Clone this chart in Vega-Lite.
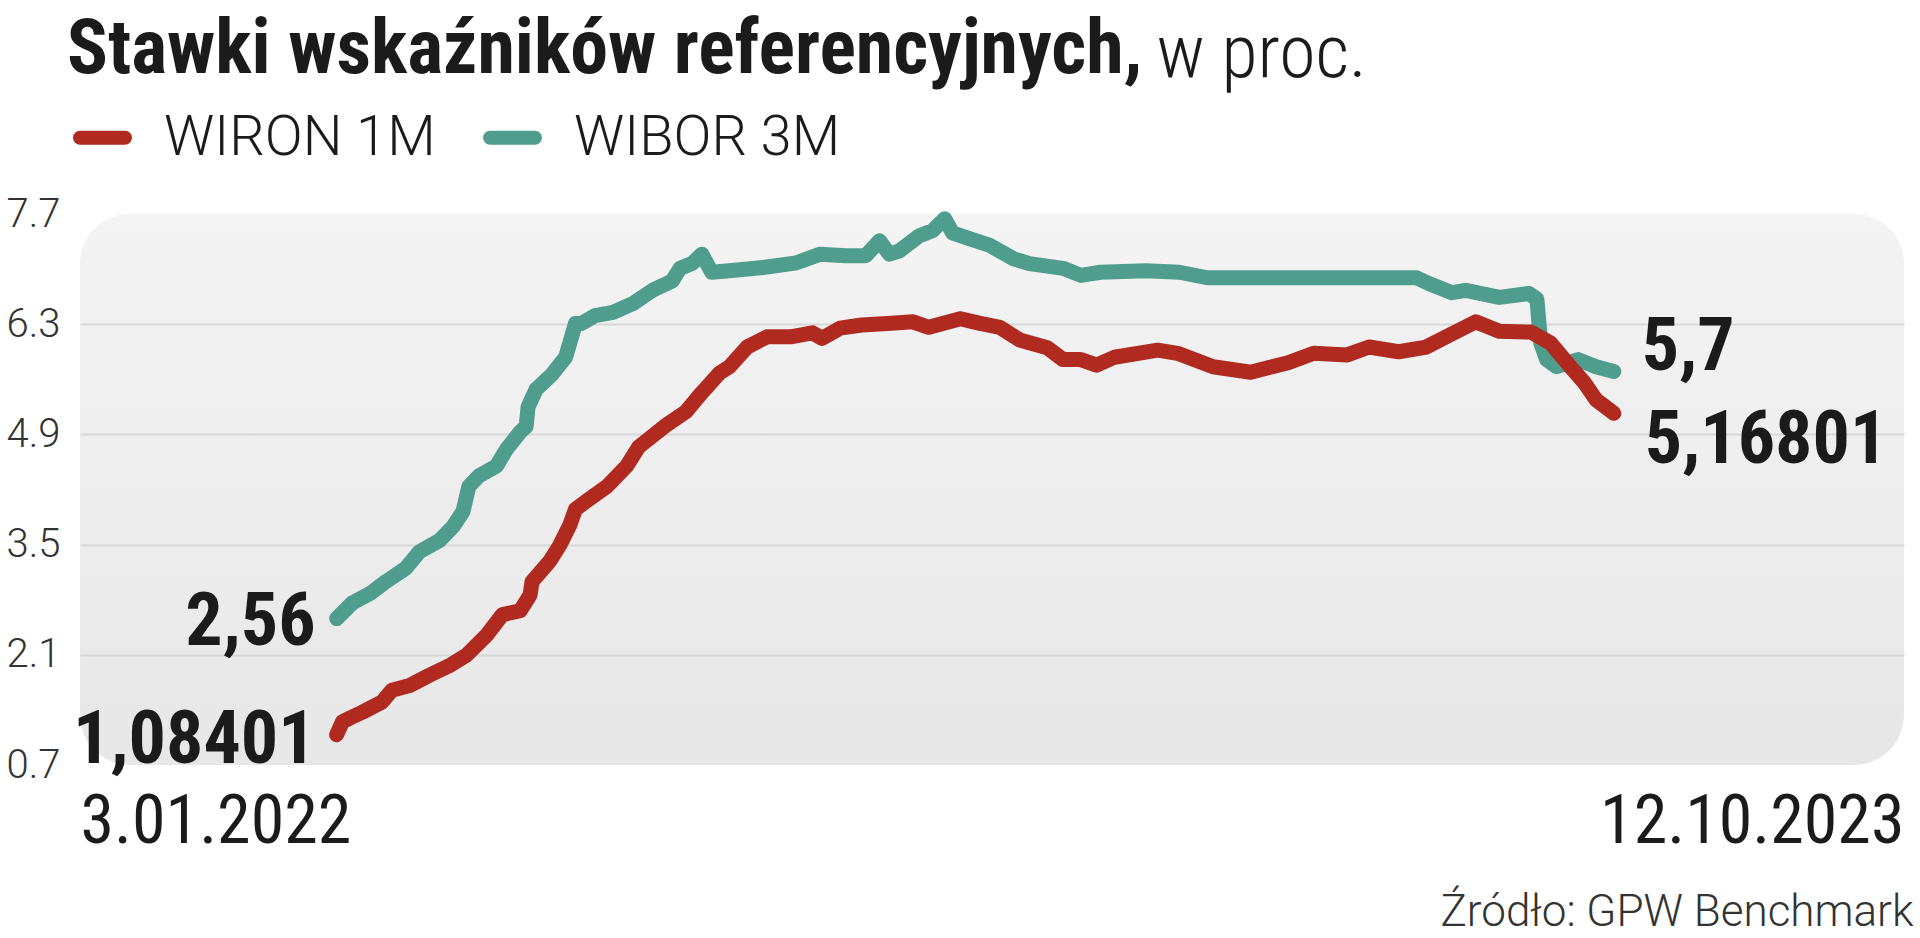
{
  "$schema": "https://vega.github.io/schema/vega-lite/v6.json",
  "autosize": {"type": "none"},
  "padding": {"left": 80, "top": 214, "right": 16, "bottom": 173},
  "width": 1824,
  "height": 551,
  "background": "#ffffff",
  "title": {
    "text": "Stawki wskaźników referencyjnych,",
    "anchor": "start",
    "frame": "group",
    "dx": -13,
    "offset": -132,
    "baseline": "alphabetic",
    "font": "Roboto Condensed",
    "fontWeight": "bold",
    "fontSize": 76,
    "color": "#1b1b1b"
  },
  "config": {
    "view": {
      "stroke": null,
      "cornerRadius": 50,
      "fill": {
        "gradient": "linear", "x1": 0, "y1": 0, "x2": 0, "y2": 1,
        "stops": [{"offset": 0, "color": "#f4f4f4"}, {"offset": 1, "color": "#e7e7e7"}]
      }
    }
  },
  "datasets": {
    "rates": [
      {"series": "WIBOR 3M", "date": "2022-01-03", "value": 2.56},
      {"series": "WIBOR 3M", "date": "2022-01-11", "value": 2.76},
      {"series": "WIBOR 3M", "date": "2022-01-20", "value": 2.88},
      {"series": "WIBOR 3M", "date": "2022-01-28", "value": 3.03},
      {"series": "WIBOR 3M", "date": "2022-02-07", "value": 3.20},
      {"series": "WIBOR 3M", "date": "2022-02-14", "value": 3.41},
      {"series": "WIBOR 3M", "date": "2022-02-24", "value": 3.55},
      {"series": "WIBOR 3M", "date": "2022-03-03", "value": 3.73},
      {"series": "WIBOR 3M", "date": "2022-03-08", "value": 3.92},
      {"series": "WIBOR 3M", "date": "2022-03-11", "value": 4.24},
      {"series": "WIBOR 3M", "date": "2022-03-16", "value": 4.37},
      {"series": "WIBOR 3M", "date": "2022-03-25", "value": 4.50},
      {"series": "WIBOR 3M", "date": "2022-03-30", "value": 4.71},
      {"series": "WIBOR 3M", "date": "2022-04-06", "value": 4.93},
      {"series": "WIBOR 3M", "date": "2022-04-09", "value": 5.00},
      {"series": "WIBOR 3M", "date": "2022-04-10", "value": 5.25},
      {"series": "WIBOR 3M", "date": "2022-04-14", "value": 5.47},
      {"series": "WIBOR 3M", "date": "2022-04-22", "value": 5.66},
      {"series": "WIBOR 3M", "date": "2022-04-29", "value": 5.88},
      {"series": "WIBOR 3M", "date": "2022-05-04", "value": 6.31},
      {"series": "WIBOR 3M", "date": "2022-05-07", "value": 6.31},
      {"series": "WIBOR 3M", "date": "2022-05-14", "value": 6.41},
      {"series": "WIBOR 3M", "date": "2022-05-23", "value": 6.45},
      {"series": "WIBOR 3M", "date": "2022-06-02", "value": 6.56},
      {"series": "WIBOR 3M", "date": "2022-06-12", "value": 6.73},
      {"series": "WIBOR 3M", "date": "2022-06-22", "value": 6.85},
      {"series": "WIBOR 3M", "date": "2022-06-26", "value": 7.01},
      {"series": "WIBOR 3M", "date": "2022-07-02", "value": 7.07},
      {"series": "WIBOR 3M", "date": "2022-07-07", "value": 7.19},
      {"series": "WIBOR 3M", "date": "2022-07-12", "value": 6.96},
      {"series": "WIBOR 3M", "date": "2022-07-21", "value": 6.98},
      {"series": "WIBOR 3M", "date": "2022-08-07", "value": 7.02},
      {"series": "WIBOR 3M", "date": "2022-08-24", "value": 7.08},
      {"series": "WIBOR 3M", "date": "2022-09-05", "value": 7.19},
      {"series": "WIBOR 3M", "date": "2022-09-18", "value": 7.17},
      {"series": "WIBOR 3M", "date": "2022-09-28", "value": 7.17},
      {"series": "WIBOR 3M", "date": "2022-10-05", "value": 7.36},
      {"series": "WIBOR 3M", "date": "2022-10-10", "value": 7.19},
      {"series": "WIBOR 3M", "date": "2022-10-15", "value": 7.23},
      {"series": "WIBOR 3M", "date": "2022-10-25", "value": 7.42},
      {"series": "WIBOR 3M", "date": "2022-11-01", "value": 7.49},
      {"series": "WIBOR 3M", "date": "2022-11-07", "value": 7.64},
      {"series": "WIBOR 3M", "date": "2022-11-11", "value": 7.46},
      {"series": "WIBOR 3M", "date": "2022-11-18", "value": 7.40},
      {"series": "WIBOR 3M", "date": "2022-11-30", "value": 7.30},
      {"series": "WIBOR 3M", "date": "2022-12-12", "value": 7.13},
      {"series": "WIBOR 3M", "date": "2022-12-20", "value": 7.07},
      {"series": "WIBOR 3M", "date": "2023-01-06", "value": 7.01},
      {"series": "WIBOR 3M", "date": "2023-01-15", "value": 6.92},
      {"series": "WIBOR 3M", "date": "2023-01-25", "value": 6.96},
      {"series": "WIBOR 3M", "date": "2023-02-17", "value": 6.98},
      {"series": "WIBOR 3M", "date": "2023-03-06", "value": 6.96},
      {"series": "WIBOR 3M", "date": "2023-03-20", "value": 6.89},
      {"series": "WIBOR 3M", "date": "2023-04-09", "value": 6.89},
      {"series": "WIBOR 3M", "date": "2023-07-04", "value": 6.89},
      {"series": "WIBOR 3M", "date": "2023-07-10", "value": 6.82},
      {"series": "WIBOR 3M", "date": "2023-07-22", "value": 6.70},
      {"series": "WIBOR 3M", "date": "2023-07-29", "value": 6.73},
      {"series": "WIBOR 3M", "date": "2023-08-15", "value": 6.64},
      {"series": "WIBOR 3M", "date": "2023-08-30", "value": 6.69},
      {"series": "WIBOR 3M", "date": "2023-09-03", "value": 6.62},
      {"series": "WIBOR 3M", "date": "2023-09-05", "value": 6.06},
      {"series": "WIBOR 3M", "date": "2023-09-08", "value": 5.85},
      {"series": "WIBOR 3M", "date": "2023-09-13", "value": 5.76},
      {"series": "WIBOR 3M", "date": "2023-09-24", "value": 5.85},
      {"series": "WIBOR 3M", "date": "2023-10-03", "value": 5.76},
      {"series": "WIBOR 3M", "date": "2023-10-12", "value": 5.70},
      {"series": "WIRON 1M", "date": "2022-01-03", "value": 1.08401},
      {"series": "WIRON 1M", "date": "2022-01-06", "value": 1.25},
      {"series": "WIRON 1M", "date": "2022-01-10", "value": 1.30},
      {"series": "WIRON 1M", "date": "2022-01-16", "value": 1.37},
      {"series": "WIRON 1M", "date": "2022-01-26", "value": 1.50},
      {"series": "WIRON 1M", "date": "2022-01-31", "value": 1.65},
      {"series": "WIRON 1M", "date": "2022-02-09", "value": 1.71},
      {"series": "WIRON 1M", "date": "2022-02-19", "value": 1.84},
      {"series": "WIRON 1M", "date": "2022-03-01", "value": 1.96},
      {"series": "WIRON 1M", "date": "2022-03-10", "value": 2.10},
      {"series": "WIRON 1M", "date": "2022-03-20", "value": 2.35},
      {"series": "WIRON 1M", "date": "2022-03-28", "value": 2.61},
      {"series": "WIRON 1M", "date": "2022-04-06", "value": 2.66},
      {"series": "WIRON 1M", "date": "2022-04-11", "value": 2.86},
      {"series": "WIRON 1M", "date": "2022-04-12", "value": 3.03},
      {"series": "WIRON 1M", "date": "2022-04-21", "value": 3.29},
      {"series": "WIRON 1M", "date": "2022-04-26", "value": 3.49},
      {"series": "WIRON 1M", "date": "2022-05-01", "value": 3.74},
      {"series": "WIRON 1M", "date": "2022-05-04", "value": 3.95},
      {"series": "WIRON 1M", "date": "2022-05-11", "value": 4.08},
      {"series": "WIRON 1M", "date": "2022-05-20", "value": 4.24},
      {"series": "WIRON 1M", "date": "2022-05-30", "value": 4.50},
      {"series": "WIRON 1M", "date": "2022-06-05", "value": 4.74},
      {"series": "WIRON 1M", "date": "2022-06-18", "value": 5.00},
      {"series": "WIRON 1M", "date": "2022-06-29", "value": 5.19},
      {"series": "WIRON 1M", "date": "2022-07-07", "value": 5.43},
      {"series": "WIRON 1M", "date": "2022-07-16", "value": 5.68},
      {"series": "WIRON 1M", "date": "2022-07-21", "value": 5.76},
      {"series": "WIRON 1M", "date": "2022-07-30", "value": 6.01},
      {"series": "WIRON 1M", "date": "2022-08-09", "value": 6.14},
      {"series": "WIRON 1M", "date": "2022-08-21", "value": 6.14},
      {"series": "WIRON 1M", "date": "2022-09-01", "value": 6.19},
      {"series": "WIRON 1M", "date": "2022-09-06", "value": 6.12},
      {"series": "WIRON 1M", "date": "2022-09-15", "value": 6.25},
      {"series": "WIRON 1M", "date": "2022-09-26", "value": 6.29},
      {"series": "WIRON 1M", "date": "2022-10-09", "value": 6.31},
      {"series": "WIRON 1M", "date": "2022-10-22", "value": 6.33},
      {"series": "WIRON 1M", "date": "2022-10-30", "value": 6.26},
      {"series": "WIRON 1M", "date": "2022-11-15", "value": 6.37},
      {"series": "WIRON 1M", "date": "2022-11-25", "value": 6.31},
      {"series": "WIRON 1M", "date": "2022-12-05", "value": 6.26},
      {"series": "WIRON 1M", "date": "2022-12-15", "value": 6.10},
      {"series": "WIRON 1M", "date": "2022-12-29", "value": 6.00},
      {"series": "WIRON 1M", "date": "2023-01-06", "value": 5.85},
      {"series": "WIRON 1M", "date": "2023-01-15", "value": 5.85},
      {"series": "WIRON 1M", "date": "2023-01-23", "value": 5.78},
      {"series": "WIRON 1M", "date": "2023-02-01", "value": 5.88},
      {"series": "WIRON 1M", "date": "2023-02-23", "value": 5.97},
      {"series": "WIRON 1M", "date": "2023-03-05", "value": 5.93},
      {"series": "WIRON 1M", "date": "2023-03-23", "value": 5.76},
      {"series": "WIRON 1M", "date": "2023-04-11", "value": 5.69},
      {"series": "WIRON 1M", "date": "2023-04-30", "value": 5.81},
      {"series": "WIRON 1M", "date": "2023-05-13", "value": 5.93},
      {"series": "WIRON 1M", "date": "2023-05-30", "value": 5.91},
      {"series": "WIRON 1M", "date": "2023-06-10", "value": 6.01},
      {"series": "WIRON 1M", "date": "2023-06-25", "value": 5.95},
      {"series": "WIRON 1M", "date": "2023-07-09", "value": 6.01},
      {"series": "WIRON 1M", "date": "2023-07-19", "value": 6.14},
      {"series": "WIRON 1M", "date": "2023-08-03", "value": 6.33},
      {"series": "WIRON 1M", "date": "2023-08-15", "value": 6.21},
      {"series": "WIRON 1M", "date": "2023-08-31", "value": 6.20},
      {"series": "WIRON 1M", "date": "2023-09-10", "value": 6.06},
      {"series": "WIRON 1M", "date": "2023-09-20", "value": 5.76},
      {"series": "WIRON 1M", "date": "2023-09-27", "value": 5.56},
      {"series": "WIRON 1M", "date": "2023-10-03", "value": 5.34},
      {"series": "WIRON 1M", "date": "2023-10-12", "value": 5.16801}
    ],
    "endLabels": [
      {"series": "WIBOR 3M", "date": "2022-01-03", "value": 2.56, "label": "2,56", "end": "first"},
      {"series": "WIRON 1M", "date": "2022-01-03", "value": 1.08401, "label": "1,08401", "end": "first"},
      {"series": "WIBOR 3M", "date": "2023-10-12", "value": 5.7, "label": "5,7", "end": "last"},
      {"series": "WIRON 1M", "date": "2023-10-12", "value": 5.16801, "label": "5,16801", "end": "last"}
    ]
  },
  "encoding": {
    "x": {
      "field": "date",
      "type": "temporal",
      "scale": {
        "domain": [
          {"year": 2021, "month": 8, "date": 26, "utc": true},
          {"year": 2024, "month": 3, "date": 7, "utc": true}
        ]
      },
      "axis": {
        "values": [
          {"year": 2021, "month": 8, "date": 26, "utc": true},
          {"year": 2024, "month": 3, "date": 7, "utc": true}
        ],
        "labelExpr": "datum.index == 0 ? '3.01.2022' : '12.10.2023'",
        "labelFlush": true,
        "labelLimit": 0,
        "labelBaseline": "alphabetic",
        "labelPadding": 77,
        "tickSize": 0,
        "ticks": false,
        "domain": false,
        "grid": false,
        "labelFont": "Roboto Condensed",
        "labelFontWeight": 400,
        "labelFontSize": 68,
        "labelColor": "#1b1b1b",
        "title": "Źródło: GPW Benchmark",
        "titleX": 1833,
        "titleY": 160,
        "titleAlign": "right",
        "titleAnchor": null,
        "titleBaseline": "alphabetic",
        "titleFont": "Roboto",
        "titleFontWeight": 300,
        "titleFontSize": 44,
        "titleColor": "#333333"
      }
    },
    "y": {
      "field": "value",
      "type": "quantitative",
      "scale": {"domain": [0.7, 7.7], "nice": false, "zero": false},
      "axis": {
        "values": [0.7, 2.1, 3.5, 4.9, 6.3, 7.7],
        "format": ".1f",
        "labelAlign": "left",
        "labelBaseline": "middle",
        "labelPadding": 74,
        "tickSize": 0,
        "ticks": false,
        "domain": false,
        "labelFont": "Roboto",
        "labelFontWeight": 300,
        "labelFontSize": 40,
        "labelColor": "#333333",
        "labelOverlap": false,
        "gridColor": "#d7d7d7",
        "gridWidth": 2,
        "gridOpacity": {"condition": {"test": "datum.value > 1 && datum.value < 7", "value": 1}, "value": 0},
        "title": "w proc.",
        "titleAngle": 0,
        "titleX": 1076,
        "titleY": -138,
        "titleAlign": "left",
        "titleAnchor": null,
        "titleBaseline": "alphabetic",
        "titleFont": "Roboto Condensed",
        "titleFontWeight": 300,
        "titleFontSize": 74,
        "titleColor": "#1b1b1b"
      }
    },
    "color": {
      "field": "series",
      "type": "nominal",
      "scale": {"domain": ["WIRON 1M", "WIBOR 3M"], "range": ["#b02a1f", "#4f9d8d"]},
      "legend": {
        "orient": "none",
        "legendX": -7,
        "legendY": -106,
        "direction": "horizontal",
        "title": null,
        "padding": 0,
        "symbolType": "stroke",
        "symbolStrokeWidth": 14,
        "symbolSize": 2025,
        "labelFont": "Roboto",
        "labelFontWeight": 300,
        "labelFontSize": 56,
        "labelColor": "#1b1b1b",
        "labelOffset": 32,
        "columnPadding": 26,
        "symbolOpacity": 1,
        "labelLimit": 0,
        "encode": {"symbols": {"update": {"strokeCap": {"value": "round"}}}}
      }
    }
  },
  "layer": [
    {
      "data": {"name": "rates"},
      "transform": [{"filter": "datum.series == 'WIBOR 3M'"}],
      "mark": {"type": "line", "strokeWidth": 15, "strokeCap": "round", "strokeJoin": "round"}
    },
    {
      "data": {"name": "rates"},
      "transform": [{"filter": "datum.series == 'WIRON 1M'"}],
      "mark": {"type": "line", "strokeWidth": 15, "strokeCap": "round", "strokeJoin": "round"}
    },
    {
      "data": {"name": "endLabels"},
      "transform": [{"filter": "datum.end == 'first' && datum.series == 'WIBOR 3M'"}],
      "mark": {"type": "text", "align": "right", "baseline": "middle", "dx": -21, "dy": 4, "font": "Roboto Condensed", "fontWeight": "bold", "fontSize": 74, "color": "#1b1b1b"},
      "encoding": {"text": {"field": "label"}, "color": {"value": "#1b1b1b"}}
    },
    {
      "data": {"name": "endLabels"},
      "transform": [{"filter": "datum.end == 'first' && datum.series == 'WIRON 1M'"}],
      "mark": {"type": "text", "align": "right", "baseline": "middle", "dx": -21, "dy": 6, "font": "Roboto Condensed", "fontWeight": "bold", "fontSize": 74, "color": "#1b1b1b"},
      "encoding": {"text": {"field": "label"}, "color": {"value": "#1b1b1b"}}
    },
    {
      "data": {"name": "endLabels"},
      "transform": [{"filter": "datum.end == 'last' && datum.series == 'WIBOR 3M'"}],
      "mark": {"type": "text", "align": "left", "baseline": "middle", "dx": 28, "dy": -23, "font": "Roboto Condensed", "fontWeight": "bold", "fontSize": 74, "color": "#1b1b1b"},
      "encoding": {"text": {"field": "label"}, "color": {"value": "#1b1b1b"}}
    },
    {
      "data": {"name": "endLabels"},
      "transform": [{"filter": "datum.end == 'last' && datum.series == 'WIRON 1M'"}],
      "mark": {"type": "text", "align": "left", "baseline": "middle", "dx": 31, "dy": 28, "font": "Roboto Condensed", "fontWeight": "bold", "fontSize": 74, "color": "#1b1b1b"},
      "encoding": {"text": {"field": "label"}, "color": {"value": "#1b1b1b"}}
    }
  ]
}
